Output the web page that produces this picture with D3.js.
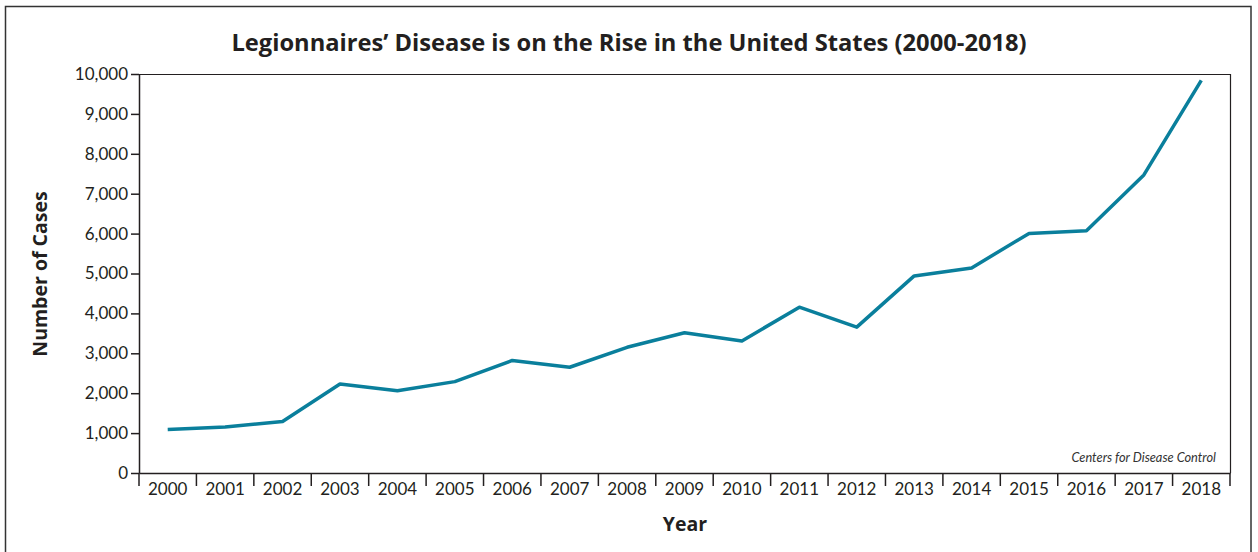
<!DOCTYPE html>
<html><head><meta charset="utf-8">
<script src="https://cdn.jsdelivr.net/npm/d3@7/dist/d3.min.js"></script>
<style>
body{margin:0;background:#fff;}
svg{display:block;font-family:Lato,"Open Sans",sans-serif;}
</style></head>
<body><svg id="c" width="1258" height="552"></svg>
<script>
const years = ["2000","2001","2002","2003","2004","2005","2006","2007","2008","2009","2010","2011","2012","2013","2014","2015","2016","2017","2018"];
const cases = [1090,1150,1290,2230,2060,2290,2820,2650,3150,3515,3310,4155,3655,4940,5140,6005,6070,7470,9840];
const yTicks = [0,1000,2000,3000,4000,5000,6000,7000,8000,9000,10000];
const titleText = "Legionnaires\u2019 Disease is on the Rise in the United States (2000-2018)";
const yLabel = "Number of Cases";
const xLabel = "Year";
const sourceText = "Centers for Disease Control";

const svg = d3.select("#c");
const ink = "#231f20";
const m = {l:139, r:1230, t:74, b:473};

svg.append("rect").attr("x",5.5).attr("y",6.5).attr("width",1245.5).attr("height",560)
  .attr("fill","none").attr("stroke","#333").attr("stroke-width",1.5);

const x = d3.scaleBand().domain(years).range([m.l, m.r]).padding(0);
const y = d3.scaleLinear().domain([0,10000]).range([m.b, m.t]);

svg.append("path").attr("d",`M${m.l},${m.t+0.5}H${m.r+0.5}V${m.b}`).attr("fill","none").attr("stroke",ink).attr("stroke-width",1.2);

const ya = svg.append("g").attr("transform",`translate(${m.l},0)`)
  .call(d3.axisLeft(y).tickValues(yTicks).tickFormat(d3.format(",")).tickSize(8).tickSizeOuter(0));
ya.select(".domain").attr("stroke",ink).attr("stroke-width",1.5);
ya.selectAll(".tick line").attr("stroke",ink).attr("stroke-width",1.5);
ya.selectAll("text").attr("font-size",17).attr("fill",ink).attr("x",-11).attr("font-family","Lato");

const xa = svg.append("g").attr("transform",`translate(0,${m.b})`)
  .call(d3.axisBottom(x).tickSize(0).tickSizeOuter(0));
xa.select(".domain").attr("stroke",ink).attr("stroke-width",1.5);
xa.selectAll("text").attr("font-size",17).attr("fill",ink).attr("y",10).attr("dy","0.71em").attr("font-family","Lato");
const bounds = years.map(d=>x(d)).concat([m.r]);
xa.selectAll(".bt").data(bounds).enter().append("line").attr("class","bt")
  .attr("x1",d=>d).attr("x2",d=>d).attr("y1",0).attr("y2",13).attr("stroke",ink).attr("stroke-width",1.5);

const line = d3.line().x((d,i)=>x(years[i])+x.bandwidth()/2).y(d=>y(d));
svg.append("path").datum(cases).attr("d",line).attr("fill","none")
  .attr("stroke","#0a7f9c").attr("stroke-width",3.5).attr("stroke-linejoin","round");

svg.append("text").attr("x",629).attr("y",51).attr("text-anchor","middle").attr("font-family","Open Sans")
  .attr("font-size",23.7).attr("font-weight","bold").attr("fill",ink).text(titleText);
svg.append("text").attr("transform","translate(47,274) rotate(-90)").attr("text-anchor","middle").attr("font-family","Open Sans")
  .attr("font-size",19.5).attr("font-weight","bold").attr("fill",ink).text(yLabel);
svg.append("text").attr("x",685).attr("y",531).attr("text-anchor","middle").attr("font-family","Open Sans")
  .attr("font-size",19.5).attr("font-weight","bold").attr("fill",ink).text(xLabel);
svg.append("text").attr("x",1216).attr("y",462).attr("text-anchor","end")
  .attr("font-size",12.8).attr("font-style","italic").attr("fill","#333").text(sourceText);
</script></body></html>
